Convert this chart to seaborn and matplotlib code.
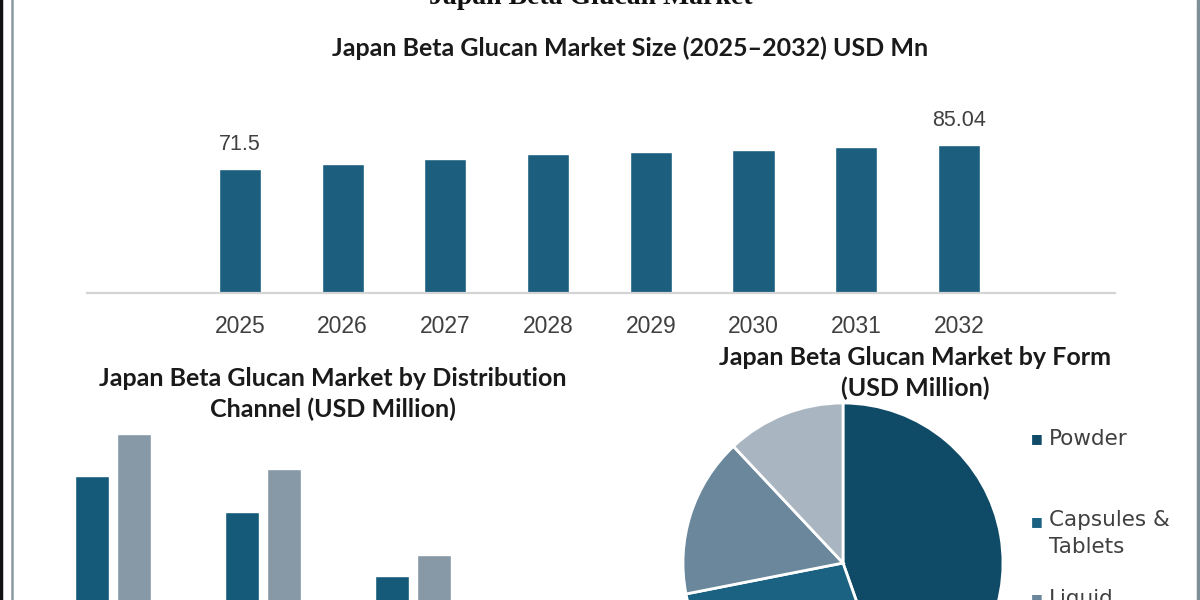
import matplotlib
matplotlib.use("Agg")
import matplotlib.pyplot as plt
from matplotlib.lines import Line2D
import seaborn as sns
import pandas as pd

# ----------------------------
# Data
# ----------------------------
years = ["2025", "2026", "2027", "2028", "2029", "2030", "2031", "2032"]
market_size = [71.5, 74.3, 77.0, 79.9, 81.0, 82.2, 83.8, 85.04]
shown_labels = ["71.5", "", "", "", "", "", "", "85.04"]

channels = ["Channel A", "Channel B", "Channel C"]
channel_years = ["2025", "2032"]
channel_2025 = [29.6, 25.0, 16.8]
channel_2032 = [35.0, 30.5, 19.5]

forms = ["Powder", "Capsules &\nTablets", "Liquid", "Others"]
form_share = [44.6, 27.3, 16.1, 12.0]

# ----------------------------
# Style
# ----------------------------
sns.set_theme(style="white")
plt.rcParams["font.family"] = ["DejaVu Sans"]

bar_color = "#1b5e7e"
channel_colors = ["#165a7a", "#8799a6"]
form_colors = ["#0f4a66", "#1b6282", "#6b879b", "#a9b6c2"]
title_font = ["Lato", "DejaVu Sans"]
num_font = ["Liberation Sans", "DejaVu Sans"]

fig = plt.figure(figsize=(12, 6), dpi=100)
fig.patch.set_facecolor("white")

# frame lines of the infographic
fig.add_artist(Line2D([0.0012, 0.0012], [0, 1], color="#111111", lw=2.5))
fig.add_artist(Line2D([0.0100, 0.0100], [0, 1], color="#8a9aa3", lw=1.8))
fig.add_artist(Line2D([0.9985, 0.9985], [0, 1], color="#7f8f98", lw=2.5))

# cut-off page heading
fig.text(0.492, 1 - 4 / 600, "Japan Beta Glucan Market", ha="center", va="baseline",
         fontsize=20, fontweight="bold", family=["Liberation Serif", "DejaVu Serif"],
         color="#111111")

# ----------------------------
# Market size bars
# ----------------------------
df_size = pd.DataFrame({"Year": years, "Size": market_size})
ax1 = fig.add_axes([87 / 1200, 1 - 293 / 600, (1115 - 87) / 1200, 193 / 600])
sns.barplot(data=df_size, x="Year", y="Size", color=bar_color, width=0.41,
            saturation=1, ax=ax1)
ax1.set_xlim(-1.49, 8.52)
ax1.set_ylim(0, 111)
ax1.bar_label(ax1.containers[0], labels=shown_labels, padding=10,
              fontsize=15.5, family=num_font, color="#404040")
ax1.set_xlabel("")
ax1.set_ylabel("")
ax1.set_yticks([])
for s in ["top", "left", "right"]:
    ax1.spines[s].set_visible(False)
ax1.spines["bottom"].set_color("#d4d4d4")
ax1.spines["bottom"].set_linewidth(1.6)
ax1.tick_params(axis="x", length=0, pad=16, labelsize=16.5, labelcolor="#404040")
for t in ax1.get_xticklabels():
    t.set_family(num_font)
ax1.patch.set_alpha(0)

fig.text(630 / 1200, 1 - 48 / 600, "Japan Beta Glucan Market Size (2025\u20132032) USD Mn",
         ha="center", va="center", fontsize=18, fontweight="bold",
         family=title_font, color="#1a1a1a")

# ----------------------------
# Distribution channel bars
# ----------------------------
df_ch = pd.DataFrame({
    "Channel": channels * 2,
    "Year": [channel_years[0]] * 3 + [channel_years[1]] * 3,
    "Value": channel_2025 + channel_2032,
})
ax2 = fig.add_axes([38 / 1200, 1 - 707 / 600, 450 / 1200, 287 / 600])
sns.barplot(data=df_ch, x="Channel", y="Value", hue="Year", palette=channel_colors,
            width=0.56, gap=0.21, saturation=1, legend=False, ax=ax2)
ax2.set_xlim(-0.5, 2.5)
ax2.set_ylim(0, 36.75)
ax2.axis("off")

fig.text(333 / 1200, 1 - 394 / 600,
         "Japan Beta Glucan Market by Distribution\nChannel (USD Million)",
         ha="center", va="center", fontsize=18, fontweight="bold",
         family=title_font, color="#1a1a1a", linespacing=1.4)

# ----------------------------
# Form pie
# ----------------------------
ax3 = fig.add_axes([(843 - 160) / 1200, 1 - (563 + 160) / 600, 320 / 1200, 320 / 600])
ax3.pie(form_share, colors=form_colors, startangle=90, counterclock=False,
        wedgeprops={"edgecolor": "white", "linewidth": 2})
ax3.set_xlim(-1, 1)
ax3.set_ylim(-1, 1)

fig.text(915 / 1200, 1 - 373 / 600, "Japan Beta Glucan Market by Form\n(USD Million)",
         ha="center", va="center", fontsize=18, fontweight="bold",
         family=title_font, color="#1a1a1a", linespacing=1.4)

# legend drawn as text rows (the last row of the original legend is off the page)
legend_y = [439, 510, 599]
for name, col, ly in zip(forms, form_colors, legend_y):
    fig.text(1031 / 1200, 1 - (ly if "\n" not in name else ly + 12) / 600, "\u25a0",
             ha="left", va="center", fontsize=9, color=col)
    fig.text(1049 / 1200, 1 - ly / 600, name, ha="left",
             va="top" if "\n" in name else "center", fontsize=15.5,
             color="#404040", linespacing=1.45)

fig.savefig("out.png", dpi=100, facecolor="white")
